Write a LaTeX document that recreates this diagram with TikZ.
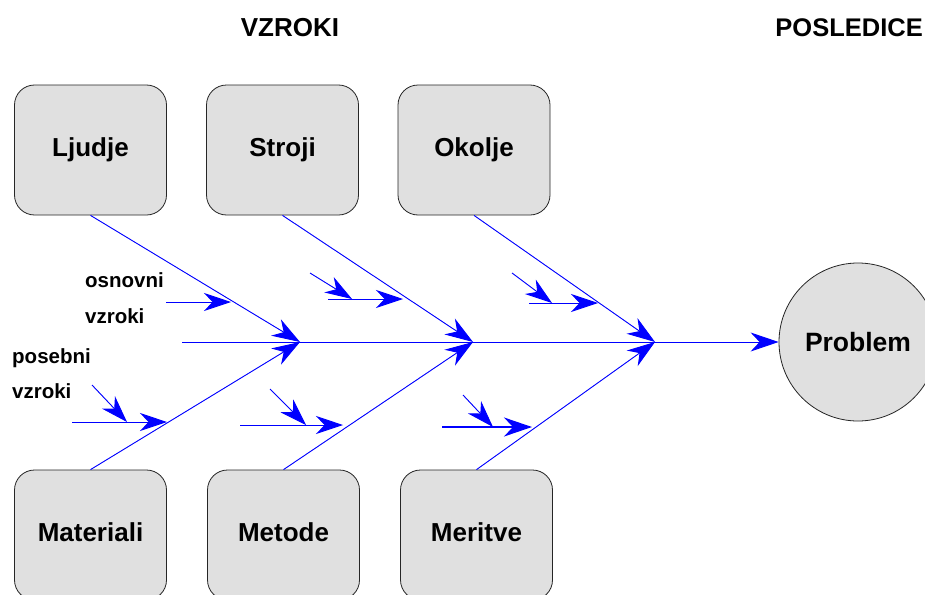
\documentclass[tikz,border=0pt]{standalone}
\usepackage{fontspec}
\setmainfont{Liberation Sans}
\usetikzlibrary{arrows.meta}
\definecolor{boxgray}{HTML}{E0E0E0}
\definecolor{fishblue}{HTML}{0000FF}
\begin{document}
\begin{tikzpicture}[x=1pt,y=-1pt,
  cause/.style={draw=black!85, fill=boxgray, rounded corners=20pt, minimum width=152pt, minimum height=130pt, line width=0.8pt, inner sep=0pt, font=\fontsize{26}{30}\selectfont\bfseries},
  lowcause/.style={cause, text height=18.5pt, text depth=6pt},
  prob/.style={draw=black!85, fill=boxgray, circle, minimum size=158pt, line width=0.8pt, inner sep=0pt, font=\fontsize{26.5}{30}\selectfont\bfseries},
  title/.style={inner sep=0pt, font=\fontsize{26}{30}\selectfont\bfseries},
  small/.style={inner sep=0pt, anchor=west, font=\fontsize{20.5}{24}\selectfont\bfseries},
  bigtip/.style={-{Stealth[length=28pt,width=19pt,inset=9pt]}},
  rib/.style={draw=fishblue, fill=fishblue, line width=0.9pt, bigtip},
  sub/.style={draw=fishblue, fill=fishblue, line width=0.9pt, -{Stealth[length=27pt,width=18pt,inset=8.5pt]}},
  thicksub/.style={sub, line width=2.4pt, -{Stealth[length=28pt,width=19pt,inset=9pt]}}
]
\clip (0,0) rectangle (925,594);
\fill[white] (0,0) rectangle (925,594);

% titles
\node[title] (vz) at (290,28) {VZROKI};
\node[title, anchor=east, font=\fontsize{25.5}{30}\selectfont\bfseries] (pos) at (923,28) {POSLEDICE};

% cause boxes
\node[cause] (ljudje) at (90.5,150) {Ljudje};
\node[cause] (stroji) at (282.5,150) {Stroji};
\node[cause] (okolje) at (474,150) {Okolje};
\node[lowcause] (materiali) at (90.5,535) {Materiali};
\node[lowcause] (metode) at (283.5,535) {Metode};
\node[lowcause] (meritve) at (476.5,535) {Meritve};

% problem
\node[prob] (problem) at (858,342) {Problem};

% spine
\coordinate (s0) at (182,342);
\coordinate (j1) at (300,342);
\coordinate (j2) at (473,342);
\coordinate (j3) at (655,342);
\draw[rib] (s0) -- (problem.west);

% ribs
\draw[rib] (ljudje.south) -- (j1);
\draw[rib] (materiali.north) -- (j1);
\draw[rib] (stroji.south) -- (j2);
\draw[rib] (metode.north) -- (j2);
\draw[rib] (okolje.south) -- (j3);
\draw[rib] (meritve.north) -- (j3);

% sub causes: Ljudje
\coordinate (a1s) at (166,302);
\coordinate (a1e) at (231,302);
\draw[sub] (a1s) -- (a1e);

% Materiali
\coordinate (b1s) at (72,422);
\coordinate (b1e) at (167,422);
\coordinate (b2s) at (92,385);
\coordinate (b2e) at (127,422);
\draw[sub] (b1s) -- (b1e);
\draw[sub] (b2s) -- (b2e);

% Stroji
\coordinate (c1s) at (328,299);
\coordinate (c1e) at (403,299);
\coordinate (c2s) at (310,273);
\coordinate (c2e) at (352,299);
\draw[sub] (c1s) -- (c1e);
\draw[sub] (c2s) -- (c2e);

% Metode
\coordinate (d1s) at (240,425);
\coordinate (d1e) at (343,425);
\coordinate (d2s) at (270,389);
\coordinate (d2e) at (306,425);
\draw[sub] (d1s) -- (d1e);
\draw[sub] (d2s) -- (d2e);

% Okolje
\coordinate (e1s) at (529,303);
\coordinate (e1e) at (598,303);
\coordinate (e2s) at (512,273);
\coordinate (e2e) at (552,303);
\draw[sub] (e1s) -- (e1e);
\draw[sub] (e2s) -- (e2e);

% Meritve
\coordinate (f1s) at (442,427);
\coordinate (f1e) at (532,427);
\coordinate (f2s) at (463,395);
\coordinate (f2e) at (493,427);
\draw[thicksub] (f1s) -- (f1e);
\draw[sub] (f2s) -- (f2e);

% labels
\node[small] (osn) at (85,280) {osnovni};
\node[small] (osv) at (85,316) {vzroki};
\node[small] (pob) at (12,358) {posebni};
\node[small] (pov) at (12,391) {vzroki};
\end{tikzpicture}
\end{document}
